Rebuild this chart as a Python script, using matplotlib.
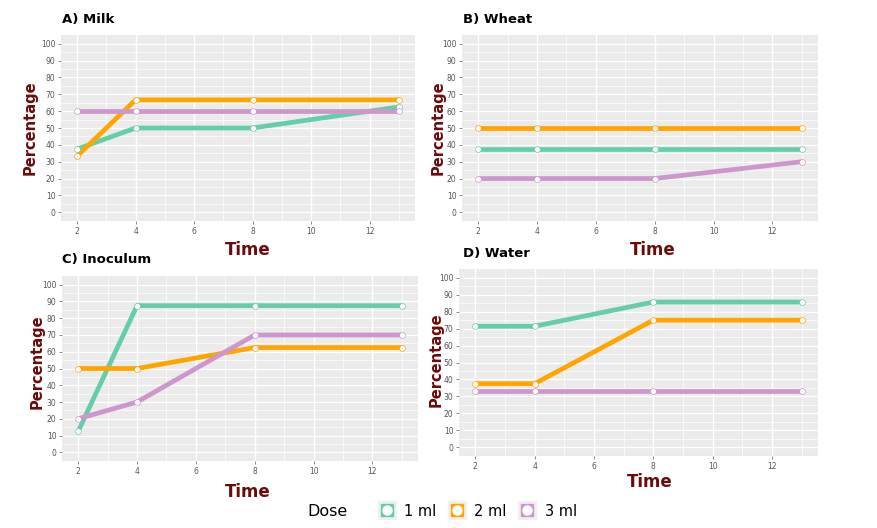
import matplotlib
matplotlib.use("Agg")
import matplotlib.pyplot as plt
from matplotlib.lines import Line2D
from matplotlib.legend_handler import HandlerTuple

# DADOS
tempo = [2, 4, 8, 13]
doses = ["1 ml", "2 ml", "3 ml"]
cores = ["#66CDAA", "#FFA500", "#CD96CD"]

milk_1ml = [37.5, 50, 50, 62.5]
milk_2ml = [33.3, 66.7, 66.7, 66.7]
milk_3ml = [60, 60, 60, 60]

wheat_1ml = [37.5, 37.5, 37.5, 37.5]
wheat_2ml = [50, 50, 50, 50]
wheat_3ml = [20, 20, 20, 30]

inoc_1ml = [12.5, 87.5, 87.5, 87.5]
inoc_2ml = [50, 50, 62.5, 62.5]
inoc_3ml = [20, 30, 70, 70]

water_1ml = [71.4, 71.4, 85.7, 85.7]
water_2ml = [37.5, 37.5, 75, 75]
water_3ml = [33.3, 33.3, 33.3, 33.3]

W, H = 877, 528
fig = plt.figure(figsize=(W / 100, H / 100), dpi=100)
fig.patch.set_facecolor("white")

vermelho = "#6B0A0A"

# (titulo, series, caixa em pixels left,right,top,bottom, titulo xy, ylabel xy, xlabel xy)
paineis = [
    ("A) Milk", [milk_1ml, milk_2ml, milk_3ml], (61, 415, 35, 221), (62, 20), (30, 128), (248, 250)),
    ("B) Wheat", [wheat_1ml, wheat_2ml, wheat_3ml], (462, 818, 35, 221), (463, 20), (438, 128), (653, 250)),
    ("C) Inoculum", [inoc_1ml, inoc_2ml, inoc_3ml], (62, 418, 276, 461), (62, 260), (37, 362), (248, 492)),
    ("D) Water", [water_1ml, water_2ml, water_3ml], (459, 818, 269, 456), (463, 253), (436, 360), (650, 482)),
]

for titulo, series, caixa, pt, py, px in paineis:
    l, r, t, b = caixa
    ax = fig.add_axes([l / W, (H - b) / H, (r - l) / W, (b - t) / H])
    ax.set_facecolor("#EBEBEB")
    for s in ax.spines.values():
        s.set_visible(False)
    ax.set_xlim(1.45, 13.55)
    ax.set_ylim(-5.2, 105.2)
    ax.set_xticks([2, 4, 6, 8, 10, 12])
    ax.set_xticks([3, 5, 7, 9, 11, 13], minor=True)
    ax.set_yticks(range(0, 101, 10))
    ax.set_yticks(range(5, 101, 10), minor=True)
    ax.grid(which="major", color="white", linewidth=1.0)
    ax.grid(which="minor", color="white", linewidth=0.5)
    ax.set_axisbelow(True)
    ax.tick_params(which="major", labelsize=5.5, labelcolor="#555555", color="#777777", length=2, width=0.6, pad=2)
    ax.tick_params(which="minor", length=0)
    for vals, cor in zip(series, cores):
        ax.plot(tempo, vals, color=cor, linewidth=3.4, solid_capstyle="butt", zorder=3)
        ax.plot(tempo, vals, linestyle="none", marker="o", markersize=4.2,
                markerfacecolor="white", markeredgecolor=cor, markeredgewidth=0.5, zorder=4)
    fig.text(pt[0] / W, 1 - pt[1] / H, titulo, fontsize=9.5, fontweight="bold",
             ha="left", va="center", color="black")
    fig.text(py[0] / W, 1 - py[1] / H, "Percentage", fontsize=10.5, fontweight="heavy",
             rotation=90, ha="center", va="center", color=vermelho)
    fig.text(px[0] / W, 1 - px[1] / H, "Time", fontsize=12, fontweight="heavy",
             ha="center", va="center", color=vermelho)

# LEGENDA
handles = []
for cor in cores:
    handles.append((Line2D([], [], linestyle="none", marker="s", markersize=13,
                           markerfacecolor="#F0F0F0", markeredgecolor="#F0F0F0"),
                    Line2D([], [], linestyle="none", marker="s", markersize=9,
                           markerfacecolor=cor, markeredgecolor=cor),
                    Line2D([], [], linestyle="none", marker="o", markersize=6.5,
                           markerfacecolor="white", markeredgecolor="white")))
fig.text(307 / W, 1 - 511 / H, "Dose", fontsize=11.5, ha="left", va="center")
leg = fig.legend(handles, doses, handler_map={tuple: HandlerTuple(ndivide=1, pad=0)},
                 loc="center left", bbox_to_anchor=(372 / W, 1 - 511 / H), ncol=3,
                 frameon=False, fontsize=10.5, handlelength=1.0, handletextpad=0.7,
                 columnspacing=0.9, borderpad=0)

fig.savefig("out.png", dpi=100)
